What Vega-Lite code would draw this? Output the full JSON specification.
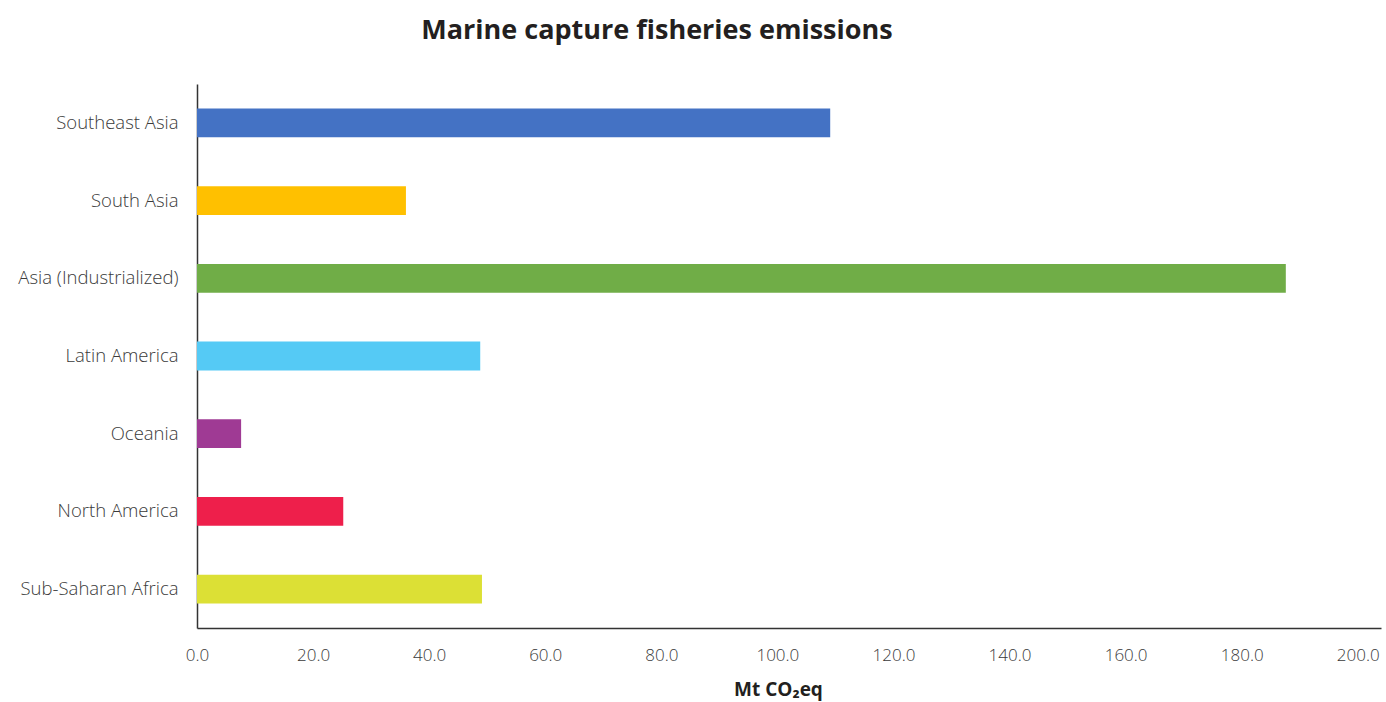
{
  "$schema": "https://vega.github.io/schema/vega-lite/v6.json",
  "width": 1184,
  "height": 544,
  "autosize": "none",
  "padding": {"left": 197, "top": 84, "right": 5, "bottom": 74},
  "background": "white",
  "title": {
    "text": "Marine capture fisheries emissions",
    "font": "Open Sans",
    "fontSize": 27,
    "fontWeight": "bold",
    "color": "#231f20",
    "anchor": "middle",
    "dx": -132,
    "offset": 39
  },
  "data": {
    "values": [
      {"region": "Southeast Asia", "emissions": 109.1},
      {"region": "South Asia", "emissions": 36.0},
      {"region": "Asia (Industrialized)", "emissions": 187.6},
      {"region": "Latin America", "emissions": 48.8},
      {"region": "Oceania", "emissions": 7.6},
      {"region": "North America", "emissions": 25.2},
      {"region": "Sub-Saharan Africa", "emissions": 49.1}
    ]
  },
  "mark": {"type": "bar"},
  "encoding": {
    "y": {
      "field": "region",
      "type": "nominal",
      "sort": null,
      "scale": {"paddingInner": 0.63, "paddingOuter": 0.315},
      "axis": {
        "title": null,
        "ticks": false,
        "domainColor": "#333333",
        "domainWidth": 1.5,
        "labelFont": "Open Sans",
        "labelFontWeight": 300,
        "labelFontSize": 18.5,
        "labelColor": "#3a3a3a",
        "labelPadding": 19
      }
    },
    "x": {
      "field": "emissions",
      "type": "quantitative",
      "scale": {"domain": [0, 204], "nice": false},
      "axis": {
        "title": "Mt CO₂eq",
        "titleFont": "Open Sans",
        "titleFontSize": 19,
        "titleFontWeight": "bold",
        "titleColor": "#231f20",
        "titlePadding": 17,
        "titleAnchor": "middle",
        "titleX": 581,
        "values": [0, 20, 40, 60, 80, 100, 120, 140, 160, 180, 200],
        "format": ".1f",
        "grid": false,
        "ticks": false,
        "labelFlush": false,
        "domainColor": "#333333",
        "domainWidth": 1.5,
        "labelFont": "Open Sans",
        "labelFontWeight": 300,
        "labelFontSize": 17,
        "labelColor": "#3a3a3a",
        "labelPadding": 19
      }
    },
    "color": {
      "field": "region",
      "type": "nominal",
      "legend": null,
      "scale": {
        "domain": ["Southeast Asia", "South Asia", "Asia (Industrialized)", "Latin America", "Oceania", "North America", "Sub-Saharan Africa"],
        "range": ["#4472c4", "#ffc000", "#70ad47", "#55caf5", "#9f3a94", "#ee1f4b", "#dce035"]
      }
    }
  },
  "config": {"view": {"stroke": null}}
}
